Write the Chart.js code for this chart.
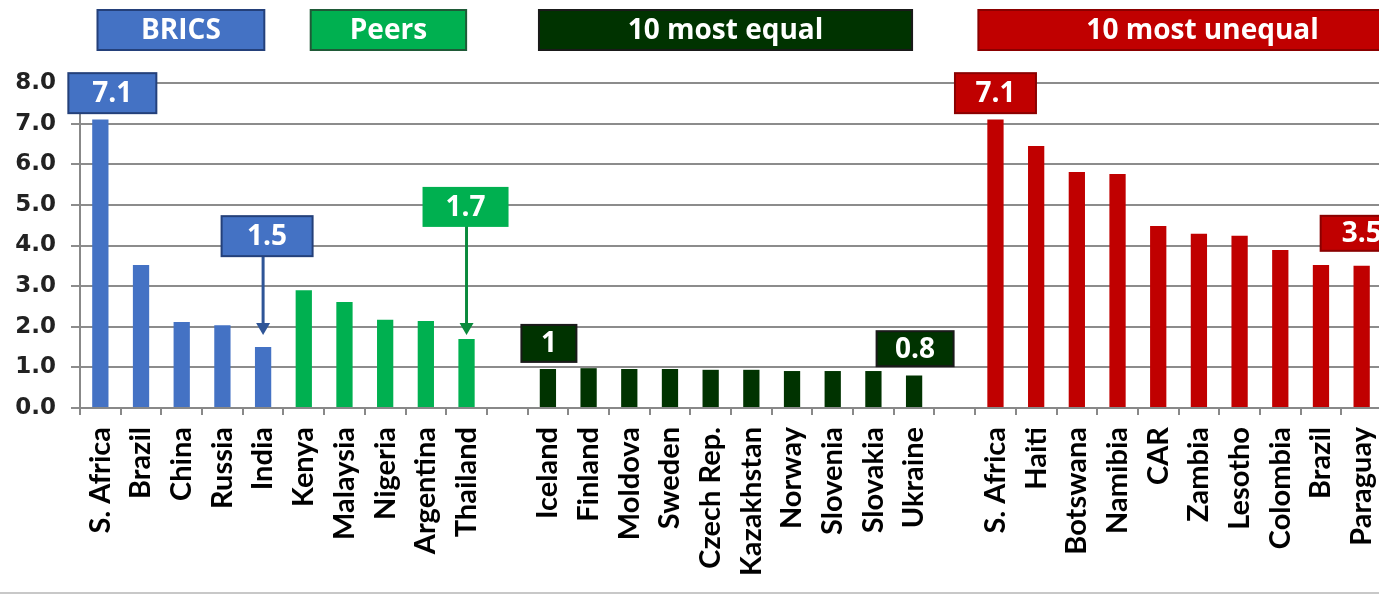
<!DOCTYPE html>
<html>
<head>
<meta charset="utf-8">
<script src="https://cdn.jsdelivr.net/npm/chart.js@4.4.0/dist/chart.umd.min.js"></script>
<style>
html, body { margin: 0; padding: 0; background: #fff; overflow: hidden; }
#wrap { position: relative; width: 1400px; height: 592px; border-bottom: 2px solid #c8c8c8; }
</style>
</head>
<body>
<div id="wrap"><canvas id="chart"></canvas></div>
<script>
// data
const bricsNames = ['S. Africa', 'Brazil', 'China', 'Russia', 'India'];
const bricsValues = [7.1, 3.52, 2.12, 2.04, 1.5];
const peerNames = ['Kenya', 'Malaysia', 'Nigeria', 'Argentina', 'Thailand'];
const peerValues = [2.9, 2.61, 2.17, 2.14, 1.7];
const equalNames = ['Iceland', 'Finland', 'Moldova', 'Sweden', 'Czech Rep.', 'Kazakhstan', 'Norway', 'Slovenia', 'Slovakia', 'Ukraine'];
const equalValues = [0.96, 0.98, 0.96, 0.96, 0.94, 0.94, 0.91, 0.91, 0.91, 0.8];
const unequalNames = ['S. Africa', 'Haiti', 'Botswana', 'Namibia', 'CAR', 'Zambia', 'Lesotho', 'Colombia', 'Brazil', 'Paraguay'];
const unequalValues = [7.1, 6.45, 5.81, 5.76, 4.48, 4.29, 4.24, 3.89, 3.52, 3.5];
const yTicks = [0, 1, 2, 3, 4, 5, 6, 7, 8];

const BLUE = '#4472C4', GREEN = '#00B050', DARKGREEN = '#003300', RED = '#C00000';

// one empty slot between the groups
const labels = [...bricsNames, ...peerNames, '', ...equalNames, '', ...unequalNames];
const values = [...bricsValues, ...peerValues, null, ...equalValues, null, ...unequalValues];
const colors = [
  ...bricsNames.map(() => BLUE),
  ...peerNames.map(() => GREEN), null,
  ...equalNames.map(() => DARKGREEN), null,
  ...unequalNames.map(() => RED)
];

// group headers above the plot (category index range)
const headers = [
  { text: 'BRICS', from: -0.07, to: 4.03, fill: BLUE, line: '#24407a' },
  { text: 'Peers', from: 5.17, to: 8.99, fill: GREEN, line: '#1f5a37' },
  { text: '10 most equal', from: 10.78, to: 19.95, fill: DARKGREEN, line: '#1a1a1a' },
  { text: '10 most unequal', from: 21.58, to: 32.6, fill: RED, line: '#8a0000' }
];

// value callouts
const callouts = [
  { index: 0, text: '7.1', dx: 12, yc: 7.75, w: 88, h: 40, fill: BLUE, line: '#24407a' },
  { index: 4, text: '1.5', dx: 4, yc: 4.23, w: 91, h: 40, fill: BLUE, line: '#24407a', arrowTo: 1.8 },
  { index: 9, text: '1.7', dx: -1, yc: 4.95, w: 84, h: 38, fill: GREEN, line: GREEN, arrowTo: 1.8 },
  { index: 11, text: '1', dx: 1, yc: 1.59, w: 55, h: 37, fill: DARKGREEN, line: '#1a1a1a' },
  { index: 20, text: '0.8', dx: 1, yc: 1.46, w: 77, h: 35, fill: DARKGREEN, line: '#1a1a1a' },
  { index: 22, text: '7.1', dx: 0, yc: 7.75, w: 81, h: 40, fill: RED, line: '#8a0000' },
  { index: 31, text: '3.5', dx: 0, yc: 4.3, w: 82, h: 35, fill: RED, line: '#8a0000' }
];

function box(c, x, y, w, h, fill, line, text, font) {
  c.fillStyle = fill;
  c.fillRect(x, y, w, h);
  c.strokeStyle = line;
  c.lineWidth = 2;
  c.strokeRect(x, y, w, h);
  c.fillStyle = '#fff';
  c.font = font;
  c.textAlign = 'center';
  c.textBaseline = 'middle';
  c.fillText(text, x + w / 2, y + h / 2 + 1);
}

const annotations = {
  id: 'annotations',
  afterDatasetsDraw(chart) {
    const c = chart.ctx;
    const xs = chart.scales.x, ys = chart.scales.y;
    const bars = chart.getDatasetMeta(0).data;
    const step = xs.getPixelForValue(1) - xs.getPixelForValue(0);
    c.save();
    headers.forEach(h => {
      const l = xs.getPixelForValue(0) + h.from * step;
      const r = xs.getPixelForValue(0) + h.to * step;
      box(c, l, 10, r - l, 40, h.fill, h.line, h.text, 'bold 28px "Open Sans"');
    });
    callouts.forEach(o => {
      const bx = bars[o.index].x;
      const cy = ys.getPixelForValue(o.yc);
      if (o.arrowTo !== undefined) {
        const tip = ys.getPixelForValue(o.arrowTo);
        c.strokeStyle = o.line === GREEN ? '#0a8a3c' : '#2f5597';
        c.fillStyle = c.strokeStyle;
        c.lineWidth = 3;
        c.beginPath();
        c.moveTo(bx, cy + o.h / 2);
        c.lineTo(bx, tip - 10);
        c.stroke();
        c.beginPath();
        c.moveTo(bx - 7, tip - 12);
        c.lineTo(bx + 7, tip - 12);
        c.lineTo(bx, tip);
        c.closePath();
        c.fill();
      }
      box(c, bx + o.dx - o.w / 2, cy - o.h / 2, o.w, o.h, o.fill, o.line, o.text, 'bold 28px "Open Sans"');
    });
    c.restore();
  }
};

new Chart(document.getElementById('chart'), {
  type: 'bar',
  data: {
    labels: labels,
    datasets: [{
      data: values,
      backgroundColor: colors,
      barPercentage: 0.4,
      categoryPercentage: 1
    }]
  },
  options: {
    responsive: true,
    maintainAspectRatio: false,
    animation: false,
    layout: { padding: { top: 83, right: 18, left: 0, bottom: 0 } },
    plugins: { legend: { display: false }, tooltip: { enabled: false } },
    scales: {
      x: {
        afterFit: s => { s.height = 184; s.paddingLeft = 0; s.paddingRight = 0; },
        grid: { drawOnChartArea: false, tickLength: 7, color: '#888', lineWidth: 2, offset: true },
        border: { color: '#888', width: 2 },
        ticks: {
          autoSkip: false, minRotation: 90, maxRotation: 90, padding: 12,
          color: '#000', font: { family: 'Lato', weight: 'bold', size: 29 }
        }
      },
      y: {
        min: 0, max: 8,
        afterFit: s => { s.width = 80; },
        afterBuildTicks: s => { s.ticks = yTicks.map(v => ({ value: v })); },
        grid: { color: '#8c8c8c', lineWidth: 2, tickLength: 9 },
        border: { color: '#888', width: 2 },
        ticks: {
          padding: 15, color: '#222',
          font: { family: 'DejaVu Sans', weight: 'bold', size: 23 },
          callback: v => v.toFixed(1)
        }
      }
    }
  },
  plugins: [annotations]
});
</script>
</body>
</html>
